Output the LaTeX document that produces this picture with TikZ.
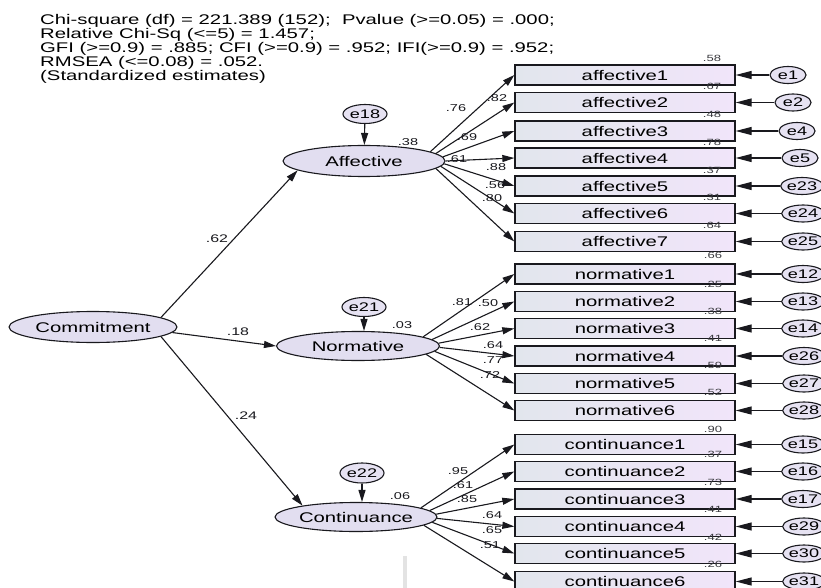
\documentclass[tikz,border=0pt]{standalone}
\usepackage{fontspec}
\setmainfont{Liberation Sans}[FakeStretch=1.45]
\usetikzlibrary{arrows.meta,shapes.geometric}
\definecolor{latfill}{RGB}{226,222,240}
\definecolor{errfill}{RGB}{230,226,242}
\definecolor{boxL}{RGB}{226,230,237}
\definecolor{boxR}{RGB}{241,229,250}
\definecolor{ink}{RGB}{25,25,30}
\tikzset{
  latent/.style={ellipse, draw=ink, line width=1.1pt, fill=latfill, minimum width=162pt, minimum height=30pt, inner sep=0pt, font=\fontsize{14}{14}\selectfont},
  errnode/.style={ellipse, draw=ink, line width=1.1pt, fill=errfill, minimum width=36pt, minimum height=17pt, inner sep=0pt, font=\fontsize{12.5}{12.5}\selectfont},
  obs/.style={rectangle, draw=ink, line width=1.3pt, left color=boxL, right color=boxR, minimum width=220pt, minimum height=20pt, inner sep=0pt, font=\fontsize{14}{14}\selectfont},
  reg/.style={draw=ink, line width=1.1pt, -{Triangle[length=12pt,width=7pt]}},
  errarrow/.style={draw=ink, line width=1.1pt, -{Triangle[length=16pt,width=8pt]}},
  coef/.style={inner sep=0pt, font=\fontsize{10}{10}\selectfont, text=ink},
  bigcoef/.style={inner sep=0pt, font=\fontsize{11}{11}\selectfont, text=ink},
  rsq/.style={inner sep=0pt, font=\fontsize{9}{9}\selectfont, text=ink!85},
  header/.style={inner sep=0pt, anchor=north west, align=left, font=\fontsize{14}{14}\selectfont, text=black}
}
\begin{document}
\begin{tikzpicture}[x=1pt,y=-1pt]
\useasboundingbox[fill=white] (0,0) rectangle (821,588);

\node[header] (hdr) at (40,14.5) {Chi-square (df) = 221.389 (152);~ Pvalue (>=0.05) = .000;\\
Relative Chi-Sq (<=5) = 1.457;\\
GFI (>=0.9) = .885; CFI (>=0.9) = .952; IFI(>=0.9) = .952;\\
RMSEA (<=0.08) = .052.\\
(Standardized estimates)};

% faint scan artifact
\fill[gray!22] (403,556) rectangle (407,588);

% latent variables
\node[latent, minimum width=168pt, minimum height=31pt] (comm) at (93,327) {Commitment};
\node[latent, minimum height=31pt] (aff) at (364,161) {Affective};
\node[latent, minimum width=163pt, minimum height=29pt] (nor) at (358,346) {Normative};
\node[latent, minimum height=29pt] (con) at (356,517) {Continuance};

% disturbances
\node[errnode, minimum width=44pt, minimum height=19pt] (e18) at (365,114) {e18};
\node[errnode, minimum width=44pt, minimum height=19pt] (e21) at (364,307) {e21};
\node[errnode, minimum width=44pt, minimum height=20pt] (e22) at (362,473) {e22};
\draw[reg] (e18) -- (aff);
\draw[reg] (e21.south) -- (nor.north -| e21.south);
\draw[reg] (e22.south) -- (con.north -| e22.south);

% structural paths
\node[bigcoef] (p1) at (217,239) {.62};
\node[bigcoef] (p2) at (238,332) {.18};
\node[bigcoef] (p3) at (246,416) {.24};
\draw[reg] (comm.8) -- (aff.188);
\draw[reg] (comm.356) -- (nor.west);
\draw[reg] (comm.352) -- (con.168);

\node[coef] (r1) at (408,142) {.38};
\node[coef] (r2) at (402,325) {.03};
\node[coef] (r3) at (400,496) {.06};

% loading labels
\foreach \lx/\ly/\t [count=\k] in {456/108/.76, 497/98/.82, 467/137/.69, 457/159/.61, 496/167/.88, 495/185/.56, 492/198/.80}
  \node[coef] (la\k) at (\lx,\ly) {\t};
\foreach \lx/\ly/\t [count=\k] in {462/302/.81, 488/303/.50, 480/327/.62, 493/345/.64, 493/360/.77, 490/375/.72}
  \node[coef] (ln\k) at (\lx,\ly) {\t};
\foreach \lx/\ly/\t [count=\k] in {458/471/.95, 463/485/.61, 467/499/.85, 492/515/.64, 492/530/.65, 490/545/.51}
  \node[coef] (lc\k) at (\lx,\ly) {\t};

% affective indicators
\foreach \i/\y/\e/\ex/\ang in {1/75/e1/788/8, 2/102.5/e2/793/6, 3/131/e4/797/3, 4/158/e5/800/0, 5/186/e23/802/-2, 6/213.5/e24/803/-4, 7/241.5/e25/803/-6} {
  \node[obs] (a\i) at (625,\y) {affective\i};
  \node[errnode] (\e) at (\ex,\y) {\e};
  \draw[errarrow] (\e) -- (a\i.east);
  \draw[reg] (aff.\ang) -- (a\i.west);
}
% normative indicators
\foreach \i/\y/\e/\ex/\ang in {1/274/e12/803/8, 2/301.5/e13/803/5, 3/328.5/e14/803/2, 4/356/e26/804/-1, 5/383.5/e27/804/-4, 6/410.5/e28/804/-7} {
  \node[obs] (n\i) at (625,\y) {normative\i};
  \node[errnode] (\e) at (\ex,\y) {\e};
  \draw[errarrow] (\e) -- (n\i.east);
  \draw[reg] (nor.\ang) -- (n\i.west);
}
% continuance indicators
\foreach \i/\y/\e/\ex/\ang in {1/444.5/e15/803/8, 2/471.5/e16/803/5, 3/499/e17/803/2, 4/526.5/e29/804/-1, 5/553.5/e30/804/-4, 6/581.5/e31/804/-7} {
  \node[obs] (c\i) at (625,\y) {continuance\i};
  \node[errnode] (\e) at (\ex,\y) {\e};
  \draw[errarrow] (\e) -- (c\i.east);
  \draw[reg] (con.\ang) -- (c\i.west);
}

% squared multiple correlations
\foreach \y/\t [count=\k] in {58/.58, 86/.67, 114/.48, 142/.78, 170/.37, 197/.31, 225/.64}
  \node[rsq] (qa\k) at (712,\y) {\t};
\foreach \y/\t [count=\k] in {255/.66, 284/.25, 311/.38, 338/.41, 365/.59, 392/.52}
  \node[rsq] (qn\k) at (713,\y) {\t};
\foreach \y/\t [count=\k] in {429/.90, 454/.37, 482/.73, 509/.41, 537/.42, 564/.26}
  \node[rsq] (qc\k) at (713,\y) {\t};
\end{tikzpicture}
\end{document}
